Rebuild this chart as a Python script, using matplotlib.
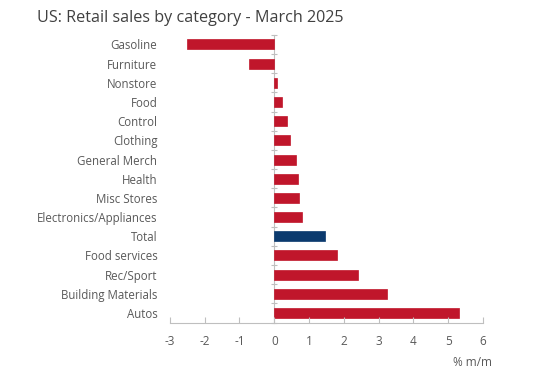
import matplotlib.pyplot as plt
import numpy as np

categories = ['Gasoline', 'Furniture', 'Nonstore', 'Food', 'Control', 'Clothing',
              'General Merch', 'Health', 'Misc Stores', 'Electronics/Appliances',
              'Total', 'Food services', 'Rec/Sport', 'Building Materials', 'Autos']
values = [-2.5, -0.72, 0.07, 0.22, 0.38, 0.44, 0.62, 0.67, 0.72, 0.8,
          1.45, 1.8, 2.4, 3.25, 5.3]
xticks = [-3, -2, -1, 0, 1, 2, 3, 4, 5, 6]

plt.rcParams['font.family'] = ['Open Sans', 'DejaVu Sans']
red = '#C0162B'
navy = '#0B3A6E'
grey = '#BFBFBF'
txt = '#595959'

fig = plt.figure(figsize=(5.5, 3.79), dpi=100)
ax = fig.add_axes([0.309, 0.149, 0.569, 0.759])

y = np.arange(len(categories))
colors = [navy if c == 'Total' else red for c in categories]
ax.barh(y, values, height=0.52, color=colors, edgecolor=colors, linewidth=0.5)

ax.set_ylim(len(categories) - 0.5, -0.5)
ax.set_xlim(-3, 6)
ax.set_xticks(xticks)
ax.set_xticklabels([str(t) for t in xticks], color=txt, fontsize=8.5)
ax.tick_params(axis='x', direction='in', length=4, color=grey, pad=9)
ax.set_yticks(y)
ax.set_yticklabels(categories, color=txt, fontsize=8.3)
ax.tick_params(axis='y', length=0, pad=9)

for s in ['top', 'right', 'left']:
    ax.spines[s].set_visible(False)
ax.spines['bottom'].set_color(grey)

# zero line with boundary ticks
sec = ax.secondary_yaxis(3 / 9)
sec.set_yticks(np.arange(-0.5, len(categories), 1.0))
sec.set_yticklabels([])
sec.tick_params(direction='inout', length=4, color=grey)
sec.spines['left'].set_color(grey)

ax.text(6.25, -0.115, '% m/m', transform=ax.get_xaxis_transform(), ha='right', va='top',
        fontsize=8.5, color=txt)

fig.text(0.067, 0.952, 'US: Retail sales by category - March 2025', fontsize=11.6,
         color='#404040', ha='left', va='center')

fig.savefig('out.png', dpi=100)
